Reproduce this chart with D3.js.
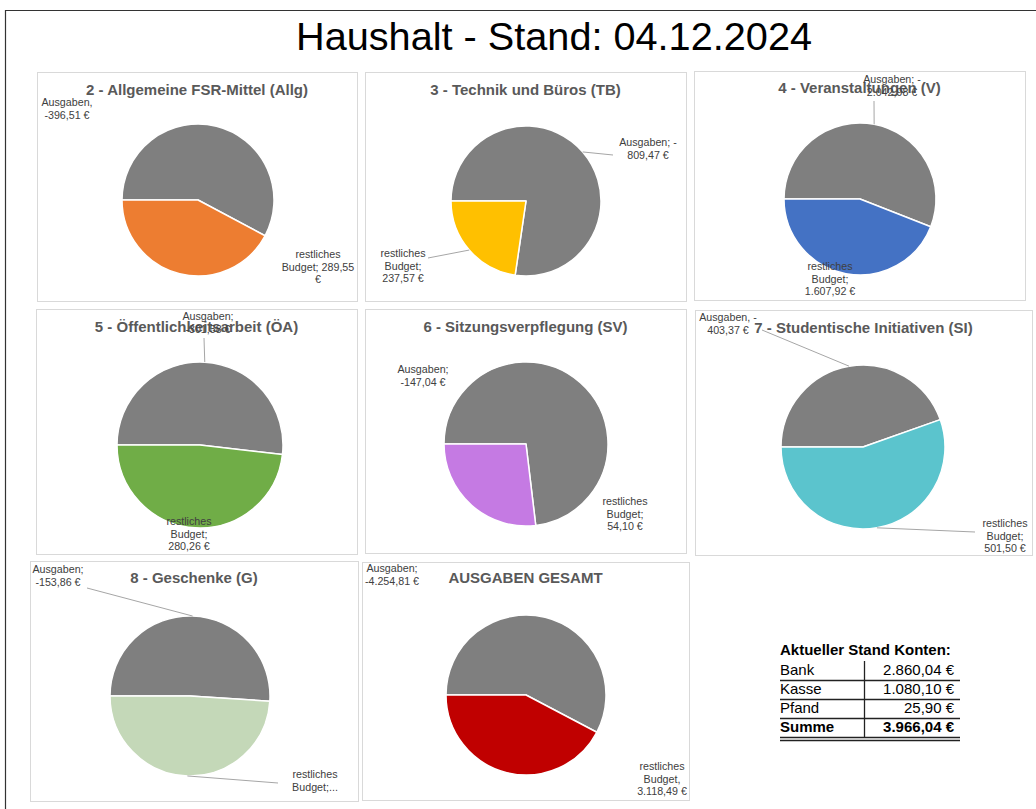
<!DOCTYPE html>
<html>
<head>
<meta charset="utf-8">
<script src="https://cdn.jsdelivr.net/npm/d3@7"></script>
<style>
  body { margin: 0; background: #fff; }
  svg { display: block; font-family: "Liberation Sans", Arial, sans-serif; }
</style>
</head>
<body>
<div id="chart"></div>
<script>
// Werte aus dem Haushalt (Stand 04.12.2024)
const panelTitles = [
  "2 - Allgemeine FSR-Mittel (Allg)",
  "3 - Technik und Büros (TB)",
  "4 - Veranstaltungen (V)",
  "5 - Öffentlichkeitsarbeit (ÖA)",
  "6 - Sitzungsverpflegung (SV)",
  "7 - Studentische Initiativen (SI)",
  "8 - Geschenke (G)",
  "AUSGABEN GESAMT"
];
const ausgaben = [396.51, 809.47, 2042.98, 301.58, 147.04, 403.37, 153.86, 4254.81];
const budget = [289.55, 237.57, 1607.92, 280.26, 54.10, 501.50, 147.59, 3118.49];
const budgetColors = ["#ed7d31", "#ffc000", "#4472c4", "#70ad47", "#c57ae3", "#5bc4cd", "#c4d8b8", "#c00000"];
const ausgabenColor = "#7f7f7f";

// Beschriftungen, {n} = Betrag
const ausgabenLabels = [
  ["Ausgaben,", "-{n} €"],
  ["Ausgaben; -", "{n} €"],
  ["Ausgaben; -", "{n} €"],
  ["Ausgaben;", "-{n} €"],
  ["Ausgaben;", "-{n} €"],
  ["Ausgaben, -", "{n} €"],
  ["Ausgaben;", "-{n} €"],
  ["Ausgaben;", "-{n} €"]
];
const budgetLabels = [
  ["restliches", "Budget; {n}", "€"],
  ["restliches", "Budget;", "{n} €"],
  ["restliches", "Budget;", "{n} €"],
  ["restliches", "Budget;", "{n} €"],
  ["restliches", "Budget;", "{n} €"],
  ["restliches", "Budget;", "{n} €"],
  ["restliches", "Budget;..."],
  ["restliches", "Budget,", "{n} €"]
];

const kontenNamen = ["Bank", "Kasse", "Pfand", "Summe"];
const kontenWerte = [2860.04, 1080.10, 25.90, 3966.04];

// Layout der Kästen (Position, Kreismitte, Radius, Beschriftungen)
const layout = [
  { box: [37, 72, 320, 229], c: [198, 200], r: 76, ty: 95, a: { x: 67, y: 106 }, b: { x: 318, y: 258 } },
  { box: [365, 72, 321, 229], c: [526, 201], r: 75, ty: 95, a: { x: 648, y: 146, end: [613, 155] }, b: { x: 403, y: 257, end: [428, 258] } },
  { box: [694, 71, 331, 229], c: [860, 199], r: 76, ty: 93, a: { x: 892, y: 83, end: [874, 101] }, b: { x: 830, y: 270 } },
  { box: [36, 309, 321, 245], c: [200, 445], r: 83, ty: 332, a: { x: 208, y: 320, end: [204, 338] }, b: { x: 189, y: 525 } },
  { box: [365, 309, 321, 244], c: [526, 444], r: 82, ty: 332, a: { x: 423, y: 373 }, b: { x: 625, y: 505 } },
  { box: [695, 310, 337, 245], c: [863, 447], r: 82, ty: 333, a: { x: 728, y: 321, end: [762, 330] }, b: { x: 1005, y: 527, end: [975, 532] } },
  { box: [30, 561, 328, 240], c: [190, 696], r: 80, ty: 583, a: { x: 58, y: 573, end: [87, 588] }, b: { x: 315, y: 778, end: [278, 783] } },
  { box: [362, 562, 327, 238], c: [526, 695], r: 80, ty: 583, a: { x: 392, y: 572 }, b: { x: 662, y: 770 } }
];

const de = d3.formatLocale({ decimal: ",", thousands: ".", grouping: [3], currency: ["", " €"] });
const fmt = de.format(",.2f");

const width = 1036;
const height = 809;

const svg = d3.select("#chart").append("svg")
  .attr("width", width)
  .attr("height", height);

// Rahmen der Seite
svg.append("line").attr("x1", 5).attr("x2", width).attr("y1", 10.5).attr("y2", 10.5)
  .attr("stroke", "#333").attr("stroke-width", 1.2);
svg.append("line").attr("x1", 5.5).attr("x2", 5.5).attr("y1", 10).attr("y2", height)
  .attr("stroke", "#333").attr("stroke-width", 1.2);

svg.append("text")
  .attr("x", 554)
  .attr("y", 50)
  .attr("text-anchor", "middle")
  .attr("font-family", "'Liberation Sans Narrow', 'Liberation Sans', Arial, sans-serif")
  .attr("font-size", 38)
  .attr("textLength", 516)
  .attr("lengthAdjust", "spacingAndGlyphs")
  .attr("fill", "#000")
  .text("Haushalt - Stand: 04.12.2024");

const pie = d3.pie().sort(null).value(d => d.value)
  .startAngle(-Math.PI / 2).endAngle(3 * Math.PI / 2);

function drawLabel(g, spec, lines, n) {
  const t = g.append("text")
    .attr("text-anchor", "middle")
    .attr("font-size", 10.7)
    .attr("fill", "#404040");
  lines.forEach((l, i) => {
    t.append("tspan")
      .attr("x", spec.x)
      .attr("y", spec.y + i * 12.5)
      .text(l.replace("{n}", n));
  });
}

panelTitles.forEach((title, i) => {
  const L = layout[i];
  const g = svg.append("g");
  const [bx, by, bw, bh] = L.box;

  g.append("rect")
    .attr("x", bx + 0.5).attr("y", by + 0.5)
    .attr("width", bw).attr("height", bh)
    .attr("fill", "#fff")
    .attr("stroke", "#d9d9d9");

  g.append("text")
    .attr("x", bx + bw / 2)
    .attr("y", L.ty)
    .attr("text-anchor", "middle")
    .attr("font-size", 15)
    .attr("font-weight", "bold")
    .attr("fill", "#595959")
    .text(title);

  const data = [
    { key: "a", value: ausgaben[i], color: ausgabenColor },
    { key: "b", value: budget[i], color: budgetColors[i] }
  ];
  const arcs = pie(data);
  const arc = d3.arc().innerRadius(0).outerRadius(L.r);

  const pg = g.append("g").attr("transform", `translate(${L.c[0]},${L.c[1]})`);
  pg.selectAll("path")
    .data(arcs)
    .join("path")
    .attr("d", arc)
    .attr("fill", d => d.data.color)
    .attr("stroke", "#fff")
    .attr("stroke-width", 1.5)
    .attr("stroke-linejoin", "round");

  // Führungslinien vom Kreisrand zur Beschriftung
  arcs.forEach(d => {
    const spec = L[d.data.key];
    if (!spec.end) return;
    const mid = (d.startAngle + d.endAngle) / 2;
    const px = L.c[0] + Math.sin(mid) * L.r;
    const py = L.c[1] - Math.cos(mid) * L.r;
    g.append("line")
      .attr("x1", px).attr("y1", py)
      .attr("x2", spec.end[0]).attr("y2", spec.end[1])
      .attr("stroke", "#a6a6a6")
      .attr("stroke-width", 1);
  });

  drawLabel(g, L.a, ausgabenLabels[i], fmt(ausgaben[i]));
  drawLabel(g, L.b, budgetLabels[i], fmt(budget[i]));
});

// Tabelle: Aktueller Stand Konten
const tab = svg.append("g").attr("font-size", 15).attr("fill", "#000");
const tx0 = 780, tx1 = 960, tsep = 864.5;
const rowY = d3.scalePoint().domain(kontenNamen).range([675, 732]);

tab.append("text")
  .attr("x", tx0).attr("y", 655)
  .attr("font-weight", "bold")
  .text("Aktueller Stand Konten:");

kontenNamen.forEach((name, i) => {
  const y = rowY(name);
  const bold = name === "Summe" ? "bold" : "normal";
  tab.append("text")
    .attr("x", tx0).attr("y", y)
    .attr("font-weight", bold)
    .text(name);
  tab.append("text")
    .attr("x", 954).attr("y", y)
    .attr("text-anchor", "end")
    .attr("font-weight", bold)
    .text(de.format("$,.2f")(kontenWerte[i]));
  if (i < kontenNamen.length - 1) {
    tab.append("line")
      .attr("x1", tx0).attr("x2", tx1)
      .attr("y1", y + 5.5).attr("y2", y + 5.5)
      .attr("stroke", "#222").attr("stroke-width", 1.3);
  }
});
const lastY = rowY("Summe");
[lastY + 5.5, lastY + 8.5].forEach(y => {
  tab.append("line")
    .attr("x1", tx0).attr("x2", tx1)
    .attr("y1", y).attr("y2", y)
    .attr("stroke", "#222").attr("stroke-width", 1.3);
});
tab.append("line")
  .attr("x1", tsep).attr("x2", tsep)
  .attr("y1", 661).attr("y2", lastY + 5.5)
  .attr("stroke", "#222").attr("stroke-width", 1.3);
</script>
</body>
</html>
